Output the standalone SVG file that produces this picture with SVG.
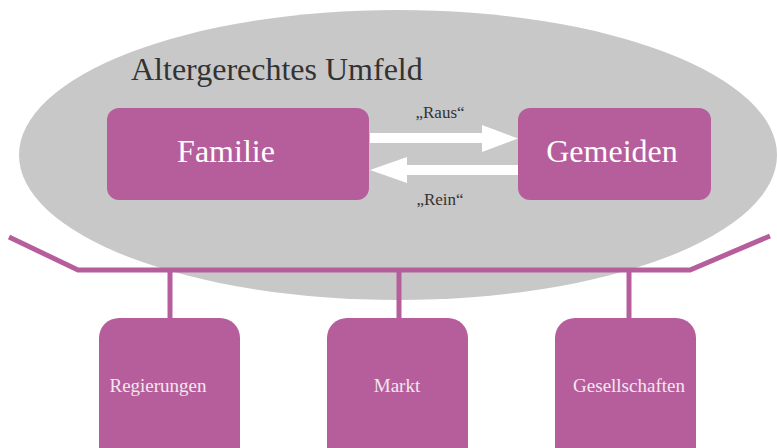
<svg xmlns="http://www.w3.org/2000/svg" width="777" height="448" viewBox="0 0 777 448">
<style>
.box{fill:#b65e9b}
.ln{stroke:#b65e9b;stroke-width:5;fill:none}
text{font-family:'Liberation Serif','Times New Roman','DejaVu Serif',serif}
.big{font-size:32px;fill:#ffffff}
.sm{font-size:19px;fill:#f3e6ef}
.lab{font-size:17px;fill:#333333}
</style>
<rect width="777" height="448" fill="#ffffff"/>
<ellipse cx="398" cy="155" rx="379" ry="145" fill="#c8c8c8"/>
<text x="131" y="80" font-size="32" fill="#333333">Altergerechtes Umfeld</text>
<g id="connectors">
<polyline class="ln" points="9,237 78,270 690,270 770,236"/>
<line class="ln" x1="170" y1="270" x2="170" y2="320"/>
<line class="ln" x1="399" y1="270" x2="399" y2="320"/>
<line class="ln" x1="629" y1="270" x2="629" y2="320"/>
<polygon fill="#ffffff" points="370,133 482,133 482,125 518,138.5 482,152 482,143 370,143"/>
<polygon fill="#ffffff" points="518,165 407,165 407,157 370,170 407,183 407,175 518,175"/>
<text class="lab" x="440" y="118" text-anchor="middle">„Raus“</text>
<text class="lab" x="440" y="205" text-anchor="middle">„Rein“</text>
</g>
<g id="familie">
<rect class="box" x="107" y="108" width="262" height="92" rx="12"/>
<text class="big" x="226" y="162" text-anchor="middle">Familie</text>
</g>
<g id="gemeiden">
<rect class="box" x="518" y="108" width="193" height="92" rx="12"/>
<text class="big" x="612" y="162" text-anchor="middle">Gemeiden</text>
</g>
<g id="regierungen">
<rect class="box" x="99" y="318" width="141" height="150" rx="20"/>
<text class="sm" x="158" y="392" text-anchor="middle">Regierungen</text>
</g>
<g id="markt">
<rect class="box" x="327" y="318" width="141" height="150" rx="20"/>
<text class="sm" x="397" y="392" text-anchor="middle">Markt</text>
</g>
<g id="gesellschaften">
<rect class="box" x="555" y="318" width="141" height="150" rx="20"/>
<text class="sm" x="629" y="392" text-anchor="middle">Gesellschaften</text>
</g>
</svg>
